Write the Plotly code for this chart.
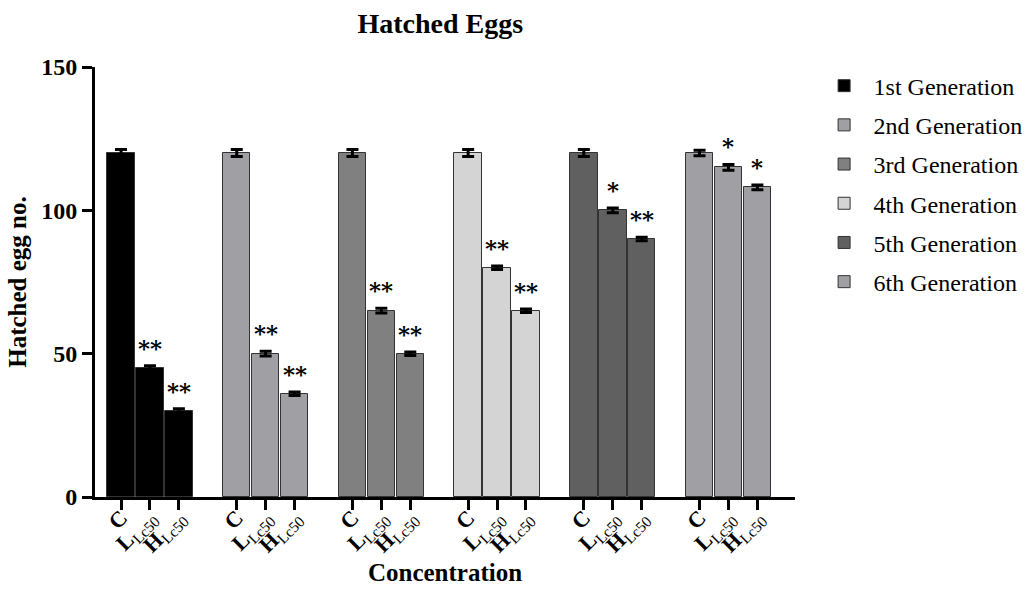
import plotly.graph_objects as go

generations = ["1st Generation", "2nd Generation", "3rd Generation",
               "4th Generation", "5th Generation", "6th Generation"]
concentrations = ["C", "L", "H"]
tick_labels = ["<b>C</b>", "<b>L</b><sub>Lc50</sub>", "<b>H</b><sub>Lc50</sub>"]
y_ticks = [0, 50, 100, 150]
values = [
    [120, 45, 30],
    [120, 50, 36],
    [120, 65, 50],
    [120, 80, 65],
    [120, 100, 90],
    [120, 115, 108],
]
errors = [
    [1.2, 0.8, 0.8],
    [1.2, 0.8, 0.6],
    [1.2, 0.8, 0.6],
    [1.2, 0.6, 0.6],
    [1.2, 0.8, 0.6],
    [1.0, 1.0, 0.8],
]
stars = [
    ["", "**", "**"],
    ["", "**", "**"],
    ["", "**", "**"],
    ["", "**", "**"],
    ["", "*", "**"],
    ["", "*", "*"],
]
colors = ["#000000", "#a0a0a4", "#808080", "#d4d4d4", "#606060", "#a0a0a4"]

FONT = "Liberation Serif"
fig = go.Figure()
tickvals, ticktext = [], []
for g, gen in enumerate(generations):
    xs = [4 * g + i for i in range(3)]
    tickvals += xs
    ticktext += tick_labels
    fig.add_trace(go.Bar(
        x=xs, y=values[g], name=gen, width=0.95,
        marker=dict(color=colors[g], line=dict(color="#333333", width=1)),
        error_y=dict(type="data", array=errors[g], visible=True,
                     color="#000000", thickness=3, width=6),
        legendgroup=gen,
    ))
    for i in range(3):
        if stars[g][i]:
            fig.add_annotation(
                x=xs[i], y=values[g][i] + errors[g][i], text="<b>" + stars[g][i] + "</b>",
                showarrow=False, yanchor="bottom", yshift=3,
                font=dict(family="DejaVu Serif", size=23, color="#000000"),
            )

fig.update_layout(
    width=1031, height=608,
    margin=dict(l=95, r=236, t=67, b=111, autoexpand=False),
    plot_bgcolor="white", paper_bgcolor="white",
    font=dict(family=FONT, color="black"),
    title=dict(text="<b>Hatched Eggs</b>", x=0.427, xanchor="center",
               y=0.962, yanchor="middle", font=dict(family=FONT, size=28)),
    showlegend=True,
    legend=dict(x=1.028, y=1.008, xanchor="left", yanchor="top",
                font=dict(family=FONT, size=24), tracegroupgap=5,
                itemwidth=49),
    bargap=0,
)
fig.update_xaxes(
    range=[-0.9, 23.3], tickvals=tickvals, ticktext=ticktext, tickangle=-45,
    showline=True, linecolor="black", linewidth=3, showgrid=False, zeroline=False,
    ticks="outside", ticklen=10, tickwidth=3, tickcolor="black",
    tickfont=dict(family=FONT, size=22, color="black"), automargin=False,
    ticklabelstandoff=-14,
    title=dict(text="<b>Concentration</b>", font=dict(family=FONT, size=25), standoff=0),
)
fig.update_yaxes(
    range=[0, 150], tickvals=y_ticks, ticktext=["<b>%d</b>" % v for v in y_ticks],
    showline=True, linecolor="black", linewidth=3, showgrid=False, zeroline=False,
    ticks="outside", ticklen=10, tickwidth=3, tickcolor="black",
    tickfont=dict(family=FONT, size=24, color="black"), automargin=False,
    title=dict(text="<b>Hatched egg no.</b>", font=dict(family=FONT, size=25), standoff=8),
)
fig.write_html("out.html")
